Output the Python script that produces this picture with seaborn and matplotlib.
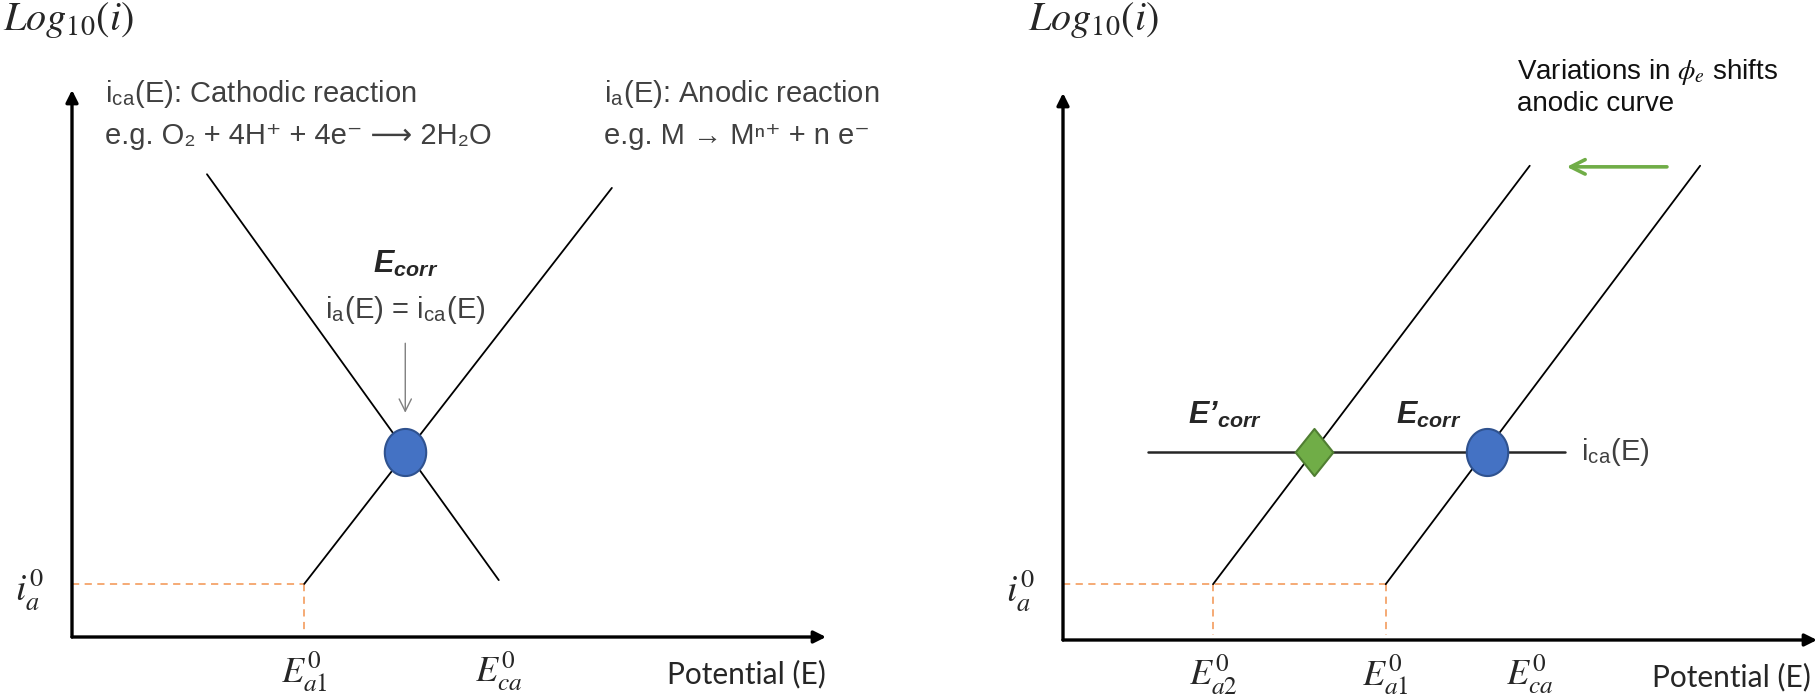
import numpy as np
import pandas as pd
import matplotlib
matplotlib.use("Agg")
import matplotlib.pyplot as plt
from matplotlib.path import Path
import seaborn as sns

# ---------------- data (schematic units: x = potential E, y = log10(i)) ----------------
# Left panel
cathodic_E = [1.79, 5.66]
cathodic_logi = [8.46, 1.04]
anodic_E = [3.08, 7.16]
anodic_logi = [0.97, 8.21]
left_Ea1 = 3.08
left_Eca = 5.66
left_ia0 = 0.97
left_corr_E = [4.42]
left_corr_logi = [3.38]
left_tick_pos = [left_Ea1, left_Eca]
left_tick_labels = [r"$E^{0}_{a1}$", r"$E^{0}_{ca}$"]

# Right panel
anodic1_E = [4.28, 8.45]
anodic1_logi = [1.02, 8.67]
anodic2_E = [1.99, 6.19]
anodic2_logi = [1.02, 8.67]
cath_flat_E = [1.13, 6.66]
cath_flat_logi = [3.44, 3.44]
right_Ea2 = 1.99
right_Ea1 = 4.28
right_Eca = 6.19
right_ia0 = 1.02
corr_E = [5.62]
corr_logi = [3.44]
corr_prime_E = [3.33]
corr_prime_logi = [3.44]
shift_arrow_E = [8.01, 6.68]
shift_arrow_logi = 8.65
right_tick_pos = [right_Ea2, right_Ea1, right_Eca]
right_tick_labels = [r"$E^{0}_{a2}$", r"$E^{0}_{a1}$", r"$E^{0}_{ca}$"]
ia0_label = [r"$i^{0}_{a}$"]

# ---------------- style ----------------
sns.set_theme(style="white")
plt.rcParams["font.family"] = ["Liberation Sans", "DejaVu Sans"]
plt.rcParams["mathtext.fontset"] = "stix"

TXT = "#404040"
DARK = "#262626"
ORANGE = "#F4A46A"
BLUE = "#4472C4"
BLUE_E = "#2F528F"
GREEN = "#70AD47"
GREEN_E = "#507E32"

fig = plt.figure(figsize=(18.2, 7), dpi=100)
axL = fig.add_axes([72 / 1820, 63 / 700, 754 / 1820, 547 / 700])
axR = fig.add_axes([1063 / 1820, 60 / 700, 754 / 1820, 547 / 700])

ellipse_verts = [(np.cos(t) * 0.88, np.sin(t)) for t in np.linspace(0, 2 * np.pi, 60)]
ellipse_marker = Path(ellipse_verts, closed=True)
diamond_marker = Path([(0, 1), (0.8, 0), (0, -1), (-0.8, 0), (0, 1)], closed=True)


def setup_axes(ax):
    ax.set_xlim(0, 10)
    ax.set_ylim(0, 10)
    for s in ax.spines.values():
        s.set_visible(False)
    ax.set_facecolor("none")
    ax.grid(False)
    for (x0, y0, x1, y1) in [(0, 0, 1, 0), (0, 0, 0, 1)]:
        ax.annotate("", xy=(x1, y1), xytext=(x0, y0), xycoords="axes fraction",
                    textcoords="axes fraction",
                    arrowprops=dict(arrowstyle="-|>", lw=2.4, color="black",
                                    mutation_scale=18, shrinkA=0, shrinkB=0),
                    annotation_clip=False)
    ax.tick_params(axis="both", length=0)
    ax.tick_params(axis="x", pad=9, labelsize=26, labelcolor=DARK)
    ax.tick_params(axis="y", pad=20, labelsize=27, labelcolor=DARK)


def seg(ax, xs, ys, **kw):
    df = pd.DataFrame({"E": xs, "logi": ys})
    sns.lineplot(data=df, x="E", y="logi", ax=ax, sort=False, estimator=None, **kw)


# ---------------- left panel ----------------
ax = axL
setup_axes(ax)
seg(ax, [0, left_Ea1], [left_ia0, left_ia0], color=ORANGE, lw=1.3, dashes=(4, 3))
seg(ax, [left_Ea1, left_Ea1], [left_ia0, 0.09], color=ORANGE, lw=1.3, dashes=(4, 3))
seg(ax, cathodic_E, cathodic_logi, color="black", lw=1.3)
seg(ax, anodic_E, anodic_logi, color="black", lw=1.3)
sns.scatterplot(x=left_corr_E, y=left_corr_logi, ax=ax, marker=ellipse_marker, s=1150,
                color=BLUE, edgecolor=BLUE_E, linewidth=1.5, zorder=5)
ax.set_xticks(left_tick_pos, left_tick_labels)
ax.set_yticks([left_ia0], ia0_label)
ax.set_xlabel("")
ax.set_ylabel("")

ax.text(-0.92, 11.10, r"$Log_{10}(i)$", fontsize=29, color=DARK, ha="left", va="baseline",
        clip_on=False)
ax.text(0.44, 9.93, r"i$_\mathregular{ca}$(E): Cathodic reaction", fontsize=21,
        color=TXT, ha="left", va="center")
ax.text(0.44, 9.16, "e.g. O₂ + 4H⁺ + 4e⁻ ⟶ 2H₂O",
        fontsize=21, color=TXT, ha="left", va="center")
ax.text(7.06, 9.93, r"i$_\mathregular{a}$(E): Anodic reaction", fontsize=21,
        color=TXT, ha="left", va="center", clip_on=False)
ax.text(7.06, 9.16, "e.g. M → Mⁿ⁺ + n e⁻", fontsize=21,
        color=TXT, ha="left", va="center", clip_on=False)
ax.text(left_corr_E[0], 6.80, r"E$_\mathregular{corr}$", fontsize=22, fontweight="bold",
        fontstyle="italic", color=DARK, ha="center", va="center")
ax.text(left_corr_E[0], 5.98, r"i$_\mathregular{a}$(E) = i$_\mathregular{ca}$(E)", fontsize=21,
        color=TXT, ha="center", va="center")
ax.annotate("", xy=(left_corr_E[0], 4.10), xytext=(left_corr_E[0], 5.37),
            arrowprops=dict(arrowstyle="->", color="#7f7f7f", lw=1.0, mutation_scale=22,
                            shrinkA=0, shrinkB=0))
ax.text(8.95, -0.68, "Potential (E)", fontsize=21.5, family="Lato", color=DARK,
        ha="center", va="center", clip_on=False)

# ---------------- right panel ----------------
ax = axR
setup_axes(ax)
seg(ax, [0, right_Ea1], [right_ia0, right_ia0], color=ORANGE, lw=1.3, dashes=(4, 3))
seg(ax, [right_Ea2, right_Ea2], [right_ia0, 0.09], color=ORANGE, lw=1.3, dashes=(4, 3))
seg(ax, [right_Ea1, right_Ea1], [right_ia0, 0.09], color=ORANGE, lw=1.3, dashes=(4, 3))
seg(ax, anodic1_E, anodic1_logi, color="black", lw=1.3)
seg(ax, anodic2_E, anodic2_logi, color="black", lw=1.3)
seg(ax, cath_flat_E, cath_flat_logi, color="#262626", lw=1.8)
sns.scatterplot(x=corr_prime_E, y=corr_prime_logi, ax=ax, marker=diamond_marker, s=1150,
                color=GREEN, edgecolor=GREEN_E, linewidth=1.5, zorder=5)
sns.scatterplot(x=corr_E, y=corr_logi, ax=ax, marker=ellipse_marker, s=1150,
                color=BLUE, edgecolor=BLUE_E, linewidth=1.5, zorder=5)
ax.set_xticks(right_tick_pos, right_tick_labels)
ax.set_yticks([right_ia0], ia0_label)
ax.set_xlabel("")
ax.set_ylabel("")

ax.text(-0.46, 11.16, r"$Log_{10}(i)$", fontsize=29, color=DARK, ha="left", va="baseline",
        clip_on=False)
ax.text(6.02, 10.38, r"Variations in $\phi_e$ shifts", fontsize=20, color="#111111",
        ha="left", va="center", clip_on=False)
ax.text(6.02, 9.80, "anodic curve", fontsize=20, color="#111111", ha="left", va="center",
        clip_on=False)
ax.annotate("", xy=(shift_arrow_E[1], shift_arrow_logi), xytext=(shift_arrow_E[0], shift_arrow_logi),
            arrowprops=dict(arrowstyle="->", color=GREEN, lw=2.6, mutation_scale=26,
                            shrinkA=0, shrinkB=0))
ax.text(2.15, 4.10, r"E’$_\mathregular{corr}$", fontsize=22, fontweight="bold",
        fontstyle="italic", color=DARK, ha="center", va="center")
ax.text(4.85, 4.10, r"E$_\mathregular{corr}$", fontsize=22, fontweight="bold",
        fontstyle="italic", color=DARK, ha="center", va="center")
ax.text(6.87, 3.44, r"i$_\mathregular{ca}$(E)", fontsize=21, color=TXT, ha="left", va="center")
ax.text(8.87, -0.68, "Potential (E)", fontsize=21.5, family="Lato", color=DARK,
        ha="center", va="center", clip_on=False)

fig.savefig("out.png", dpi=100, facecolor="white")
